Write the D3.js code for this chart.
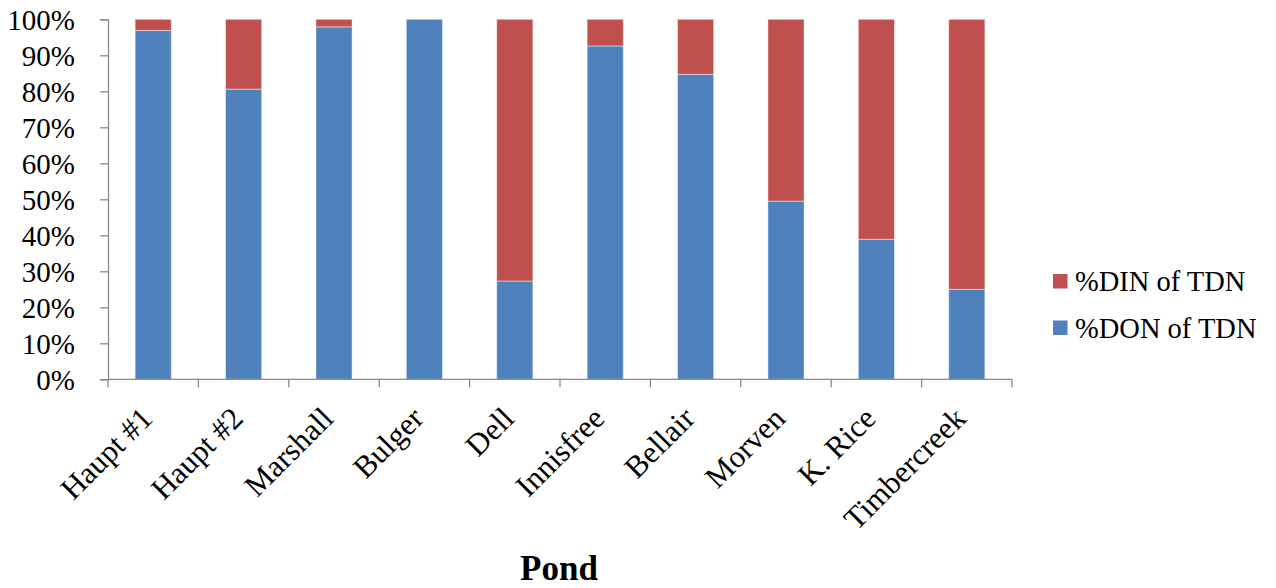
<!DOCTYPE html>
<html>
<head>
<meta charset="utf-8">
<script src="https://cdn.jsdelivr.net/npm/d3@7"></script>
<style>
  html, body { margin: 0; padding: 0; background: #fff; }
</style>
</head>
<body>
<svg id="chart" width="1276" height="588"></svg>
<script>
// Ponds along the x axis
const ponds = ["Haupt #1", "Haupt #2", "Marshall", "Bulger", "Dell", "Innisfree", "Bellair", "Morven", "K. Rice", "Timbercreek"];
// Share of total dissolved nitrogen (%)
const donPct = [96.9, 80.6, 97.9, 100, 27.3, 92.6, 84.7, 49.5, 38.9, 25.0];
const dinPct = [3.1, 19.4, 2.1, 0, 72.7, 7.4, 15.3, 50.5, 61.1, 75.0];
const yTicks = [0, 10, 20, 30, 40, 50, 60, 70, 80, 90, 100];
const seriesNames = ["%DIN of TDN", "%DON of TDN"];
const seriesColors = { "%DON of TDN": "#4F81BD", "%DIN of TDN": "#C0504D" };

const FONT = "'Liberation Serif', 'Times New Roman', serif";
const AXIS = "#898989";

const svg = d3.select("#chart");
const margin = { left: 108, right: 1012, top: 19.3, bottom: 379.3 };

const x = d3.scaleBand().domain(ponds).range([margin.left, margin.right]).paddingInner(0.6).paddingOuter(0.3);
const y = d3.scaleLinear().domain([0, 100]).range([margin.bottom, margin.top]);

// Stack DON at the bottom, DIN above it
const rows = ponds.map((p, i) => ({ pond: p, "%DON of TDN": donPct[i], "%DIN of TDN": dinPct[i] }));
const layers = d3.stack().keys(["%DON of TDN", "%DIN of TDN"])(rows);

svg.append("g").selectAll("g")
  .data(layers)
  .join("g")
  .attr("fill", d => seriesColors[d.key])
  .selectAll("rect")
  .data(d => d)
  .join("rect")
  .attr("x", d => x(d.data.pond))
  .attr("width", x.bandwidth())
  .attr("y", d => y(d[1]))
  .attr("height", d => Math.max(0, y(d[0]) - y(d[1])))
  .attr("stroke", "rgba(255,255,255,0.45)")
  .attr("stroke-width", 1);

// Y axis
const yAxis = d3.axisLeft(y).tickValues(yTicks).tickFormat(d => d + "%").tickSize(8);
const gy = svg.append("g").attr("transform", `translate(${margin.left},0)`).call(yAxis);
gy.attr("font-family", null).attr("font-size", null);
gy.select(".domain").attr("stroke", AXIS).attr("stroke-width", 1.3);
gy.selectAll(".tick line").attr("stroke", AXIS).attr("stroke-width", 1.3);
gy.selectAll(".tick text")
  .style("font-family", FONT)
  .style("font-size", "29px")
  .attr("fill", "#000")
  .attr("x", -33)
  .attr("dy", "0.34em");

// X axis: ticks on category boundaries
const gx = svg.append("g").attr("transform", `translate(0,${margin.bottom})`);
const edges = d3.range(ponds.length + 1).map(i => margin.left + i * (margin.right - margin.left) / ponds.length);
gx.append("line")
  .attr("x1", margin.left).attr("x2", margin.right)
  .attr("stroke", AXIS).attr("stroke-width", 1.3);
gx.selectAll("line.tick")
  .data(edges)
  .join("line")
  .attr("class", "tick")
  .attr("x1", d => d).attr("x2", d => d)
  .attr("y1", 0).attr("y2", 8)
  .attr("stroke", AXIS).attr("stroke-width", 1.3);

gx.selectAll("text.cat")
  .data(ponds)
  .join("text")
  .attr("class", "cat")
  .style("font-family", FONT)
  .style("font-size", "31px")
  .attr("text-anchor", "end")
  .attr("transform", d => `translate(${x(d) + x.bandwidth() / 2 + 1},${41}) rotate(-45)`)
  .text(d => d);

// Axis title
svg.append("text")
  .attr("x", (margin.left + margin.right) / 2 - 1)
  .attr("y", 580)
  .attr("text-anchor", "middle")
  .style("font-family", FONT)
  .style("font-size", "35px")
  .style("font-weight", "bold")
  .text("Pond");

// Legend
const legend = svg.append("g").attr("transform", "translate(1053,274)");
const li = legend.selectAll("g").data(seriesNames).join("g")
  .attr("transform", (d, i) => `translate(0,${i * 46.5})`);
li.append("rect").attr("width", 14.5).attr("height", 14.5).attr("fill", d => seriesColors[d]);
li.append("text")
  .attr("x", 22).attr("y", 17)
  .style("font-family", FONT)
  .style("font-size", "28.5px")
  .text(d => d);
</script>
</body>
</html>
